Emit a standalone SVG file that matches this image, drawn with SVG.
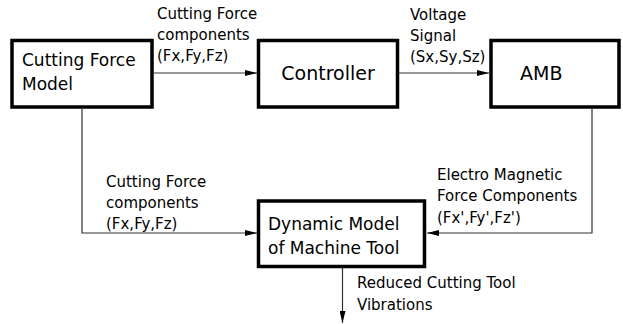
<svg xmlns="http://www.w3.org/2000/svg" width="623" height="324" viewBox="0 0 623 324">
<style>
.box{fill:#fff;stroke:#000;stroke-width:3.5}
.t{font-family:"DejaVu Sans",Verdana,sans-serif;fill:#000}
.big{font-size:17px}
.lg{font-size:19px}
.lb{font-size:15px}
.c{fill:none;stroke:#333;stroke-width:1.2}
</style>
<defs>
<marker id="ah" viewBox="0 0 12 6" refX="12" refY="3" markerWidth="12" markerHeight="6" markerUnits="userSpaceOnUse" orient="auto">
<path d="M0,0 L12,3 L0,6 z" fill="#000"/>
</marker>
</defs>
<rect width="623" height="324" fill="#fff"/>
<g id="connectors">
<path class="c" d="M154,73 H257" marker-end="url(#ah)"/>
<path class="c" d="M399,73 H489" marker-end="url(#ah)"/>
<path class="c" d="M82,109 V233 H257" marker-end="url(#ah)"/>
<path class="c" d="M592,109 V233 H427" marker-end="url(#ah)"/>
<path class="c" d="M342.5,268 V323" marker-end="url(#ah)"/>
</g>
<g id="labels">
<text class="t lb" x="157" y="19">Cutting Force</text>
<text class="t lb" x="157" y="40">components</text>
<text class="t lb" x="157" y="61">(Fx,Fy,Fz)</text>
<text class="t lb" x="410" y="20">Voltage</text>
<text class="t lb" x="410" y="41">Signal</text>
<text class="t lb" x="410" y="62">(Sx,Sy,Sz)</text>
<text class="t lb" x="106" y="187">Cutting Force</text>
<text class="t lb" x="106" y="208">components</text>
<text class="t lb" x="106" y="229">(Fx,Fy,Fz)</text>
<text class="t lb" x="437" y="180">Electro Magnetic</text>
<text class="t lb" x="437" y="201">Force Components</text>
<text class="t lb" x="437" y="223">(Fx',Fy',Fz')</text>
<text class="t lb" x="357" y="288">Reduced Cutting Tool</text>
<text class="t lb" x="357" y="310">Vibrations</text>
</g>
<g id="cutting-force-model">
<rect class="box" x="12" y="40.5" width="140" height="66.5"/>
<text class="t big" x="22" y="66">Cutting Force</text>
<text class="t big" x="22" y="90">Model</text>
</g>
<g id="controller">
<rect class="box" x="258.5" y="40.5" width="139" height="66.5"/>
<text class="t lg" x="328" y="80" text-anchor="middle">Controller</text>
</g>
<g id="amb">
<rect class="box" x="491" y="40.5" width="128" height="66.5"/>
<text class="t lg" x="520" y="80">AMB</text>
</g>
<g id="dynamic-model">
<rect class="box" x="258.5" y="201" width="166" height="65.5"/>
<text class="t big" x="268" y="230">Dynamic Model</text>
<text class="t big" x="268" y="254">of Machine Tool</text>
</g>
</svg>
